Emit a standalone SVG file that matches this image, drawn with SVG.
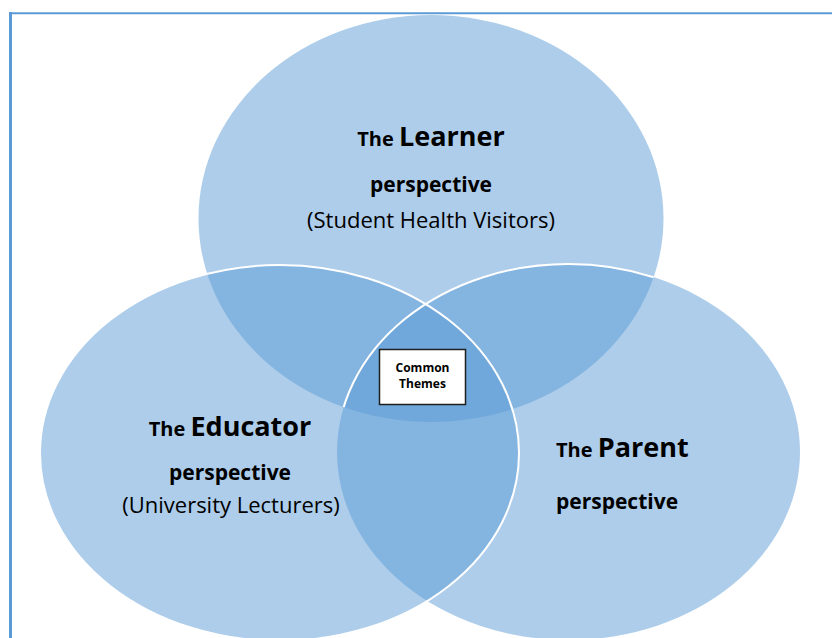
<svg xmlns="http://www.w3.org/2000/svg" width="832" height="638" viewBox="0 0 832 638">
  <style>
    .set { fill: #5b9bd5; fill-opacity: 0.5; }
    .rim { fill: none; stroke: #ffffff; stroke-width: 2; }
    .txt { font-family: "Open Sans", "Liberation Sans", sans-serif; fill: #000000; }
    .bold { font-weight: bold; }
    .frame { stroke: #5b9bd5; fill: none; }
  </style>
  <defs>
    <!-- region of the top set, used to limit the right set's outline -->
    <clipPath id="learnerArea">
      <ellipse cx="431" cy="218.5" rx="232.5" ry="203.5"/>
    </clipPath>
  </defs>

  <rect width="832" height="638" fill="#ffffff"/>

  <!-- page frame -->
  <g id="frame">
    <line class="frame" x1="10.5" y1="12" x2="10.5" y2="638" stroke-width="3"/>
    <line class="frame" x1="9" y1="13.3" x2="832" y2="13.3" stroke-width="2" stroke="#6fa2d6"/>
  </g>

  <!-- top set -->
  <g id="learner">
    <ellipse class="set" cx="431" cy="218.5" rx="232.5" ry="203.5"/>
    <text class="txt bold" x="431" y="146" text-anchor="middle"><tspan font-size="20">The </tspan><tspan font-size="27">Learner</tspan></text>
    <text class="txt bold" x="431" y="192" text-anchor="middle" font-size="21">perspective</text>
    <text class="txt" x="431" y="228" text-anchor="middle" font-size="22">(Student Health Visitors)</text>
  </g>

  <!-- lower right set -->
  <g id="parent">
    <ellipse class="set" cx="568.5" cy="452" rx="231.5" ry="188"/>
    <text class="txt bold" x="556" y="457"><tspan font-size="20">The </tspan><tspan font-size="27">Parent</tspan></text>
    <text class="txt bold" x="556" y="509" font-size="21">perspective</text>
  </g>

  <!-- lower left set -->
  <g id="educator">
    <ellipse class="set rim" style="fill:#5b9bd5" cx="279.5" cy="453" rx="239.5" ry="188"/>
    <text class="txt bold" x="230" y="436" text-anchor="middle"><tspan font-size="20">The </tspan><tspan font-size="27">Educator</tspan></text>
    <text class="txt bold" x="230" y="480" text-anchor="middle" font-size="21">perspective</text>
    <text class="txt" x="231" y="513" text-anchor="middle" font-size="22">(University Lecturers)</text>
  </g>

  <!-- outline of the right set where it crosses the top set -->
  <g id="outlines">
    <ellipse class="rim" cx="568.5" cy="452" rx="231.5" ry="188" clip-path="url(#learnerArea)"/>
  </g>

  <!-- label box in the shared centre -->
  <g id="common-themes">
    <rect x="379.5" y="349.5" width="86" height="55" fill="#ffffff" stroke="#1f1f1f" stroke-width="1.5"/>
    <text class="txt bold" x="422.5" y="372" text-anchor="middle" font-size="12">Common</text>
    <text class="txt bold" x="422.5" y="388" text-anchor="middle" font-size="12">Themes</text>
  </g>
</svg>
